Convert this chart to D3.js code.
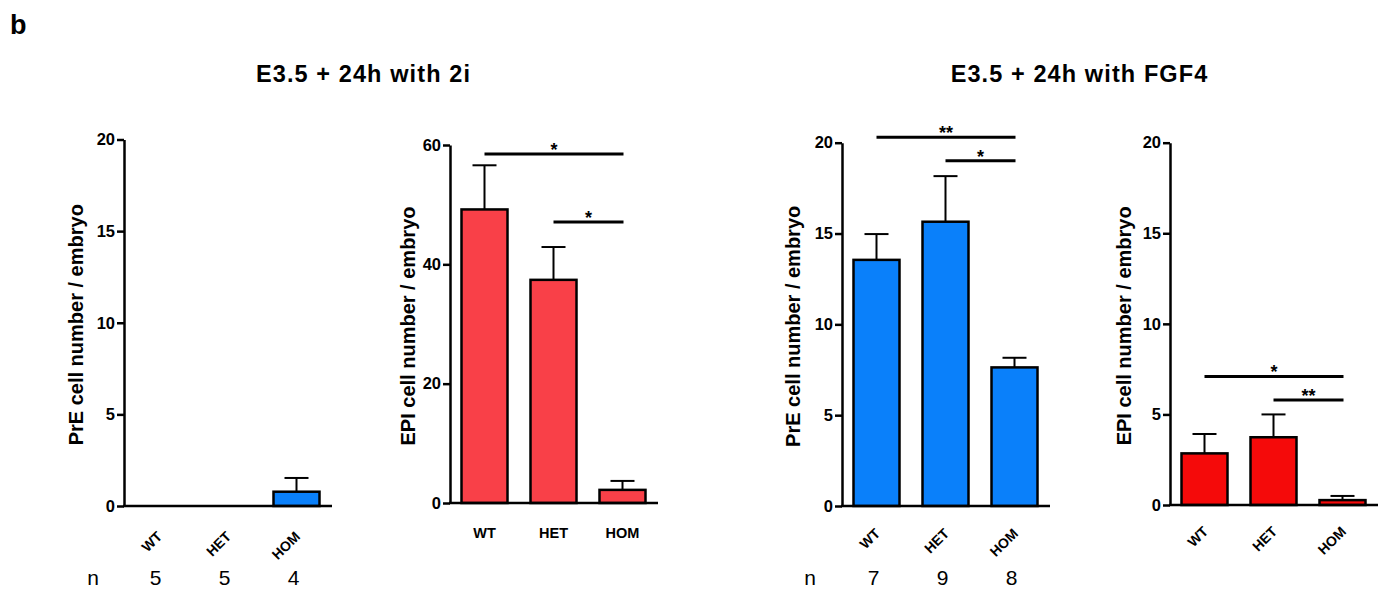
<!DOCTYPE html>
<html><head><meta charset="utf-8">
<script src="https://cdn.jsdelivr.net/npm/d3@7"></script>
<style>
body{margin:0;background:#fff;}
svg text{font-family:"Liberation Sans",Arial,Helvetica,sans-serif;}
</style></head>
<body><svg id="c" width="1388" height="590"></svg>
<script>
// ---- data ----
const categories = ["WT", "HET", "HOM"];
const pre2iMean  = [0, 0, 0.78];
const pre2iSem   = [0, 0, 0.75];
const epi2iMean  = [49.2, 37.4, 2.2];
const epi2iSem   = [7.4, 5.5, 1.5];
const preFgfMean = [13.55, 15.65, 7.63];
const preFgfSem  = [1.42, 2.51, 0.53];
const epiFgfMean = [2.85, 3.74, 0.27];
const epiFgfSem  = [1.07, 1.26, 0.23];
const n2i  = [5, 5, 4];
const nFgf = [7, 9, 8];
const ticks20 = [0, 5, 10, 15, 20];
const ticks60 = [0, 20, 40, 60];
// significance: [from, to, y value, label]
const sigEpi2i  = [["WT","HOM",58.5,"*"],["HET","HOM",47.1,"*"]];
const sigPreFgf = [["WT","HOM",20.3,"**"],["HET","HOM",19.0,"*"]];
const sigEpiFgf = [["WT","HOM",7.1,"*"],["HET","HOM",5.8,"**"]];
const titles = ["E3.5 + 24h with 2i", "E3.5 + 24h with FGF4"];
const yLabels = ["PrE cell number / embryo", "EPI cell number / embryo"];

const svg = d3.select("#c");
const panels = [
  {x0:124, yTop:139.5, y0:506, max:20, ticks:ticks20, mean:pre2iMean, sem:pre2iSem, color:"#0A80FA", label:yLabels[0], labX:76, rot:true, labDy:4, n:n2i, nX:93, sig:[]},
  {x0:450, yTop:145, y0:503, max:60, ticks:ticks60, mean:epi2iMean, sem:epi2iSem, color:"#F94048", label:yLabels[1], labX:408, rot:false, sig:sigEpi2i},
  {x0:842, yTop:142.7, y0:506, max:20, ticks:ticks20, mean:preFgfMean, sem:preFgfSem, color:"#0A80FA", label:yLabels[0], labX:793, rot:true, labDy:1, n:nFgf, nX:810, sig:sigPreFgf},
  {x0:1170, yTop:142.7, y0:505, max:20, ticks:ticks20, mean:epiFgfMean, sem:epiFgfSem, color:"#F50A0A", label:yLabels[1], labX:1124, rot:true, labDy:0, sig:sigEpiFgf}
];

panels.forEach(p => {
  const g = svg.append("g");
  const y = d3.scaleLinear().domain([0, p.max]).range([p.y0, p.yTop]);
  const x = d3.scaleBand().domain(categories).range([p.x0, p.x0 + 207]).paddingInner(1/3).paddingOuter(1/6);

  // bars
  g.selectAll("rect.bar").data(categories.filter((c,i)=>p.mean[i]>0)).join("rect")
    .attr("x", c => x(c)).attr("width", x.bandwidth())
    .attr("y", c => y(p.mean[categories.indexOf(c)]))
    .attr("height", c => p.y0 - y(p.mean[categories.indexOf(c)]))
    .attr("fill", p.color).attr("stroke", "#000").attr("stroke-width", 2.5);

  // error bars (upper only)
  categories.forEach((c,i) => {
    if (p.sem[i] <= 0) return;
    const cx = x(c) + x.bandwidth()/2;
    g.append("line").attr("x1",cx).attr("x2",cx).attr("y1",y(p.mean[i])).attr("y2",y(p.mean[i]+p.sem[i]))
      .attr("stroke","#000").attr("stroke-width",2);
    g.append("line").attr("x1",cx-12).attr("x2",cx+12).attr("y1",y(p.mean[i]+p.sem[i])).attr("y2",y(p.mean[i]+p.sem[i]))
      .attr("stroke","#000").attr("stroke-width",2);
  });

  // y axis
  const ya = g.append("g").attr("transform", `translate(${p.x0},0)`)
    .call(d3.axisLeft(y).tickValues(p.ticks).tickSize(7).tickSizeOuter(0).tickPadding(2));
  ya.select(".domain").attr("stroke-width", 2.5);
  ya.selectAll(".tick line").attr("stroke-width", 2.5);
  ya.selectAll(".tick text").attr("font-size", 16.5).attr("font-weight", "bold").attr("fill","#000")
    .style("font-family", '"Liberation Sans",Arial,sans-serif');

  // x axis line
  g.append("line").attr("x1", p.x0 - 1).attr("x2", p.x0 + 208).attr("y1", p.y0).attr("y2", p.y0)
    .attr("stroke", "#000").attr("stroke-width", 2.5);

  // category labels
  categories.forEach(c => {
    const cx = x(c) + x.bandwidth()/2;
    if (p.rot) {
      g.append("text").attr("transform", `translate(${cx+1},${p.y0+24+p.labDy}) rotate(-45)`)
        .attr("text-anchor","end").attr("dy","0.35em")
        .attr("font-size",14).attr("font-weight","bold").text(c);
    } else {
      g.append("text").attr("x", cx).attr("y", p.y0 + 35).attr("text-anchor","middle")
        .attr("font-size",14.5).attr("font-weight","bold").text(c);
    }
  });

  // n row
  if (p.n) {
    g.append("text").attr("x", p.nX).attr("y", 585).attr("text-anchor","middle").attr("font-size",21).text("n");
    categories.forEach((c,i) => {
      g.append("text").attr("x", x(c) + x.bandwidth()/2 - 3).attr("y", 585).attr("text-anchor","middle")
        .attr("font-size",21).text(p.n[i]);
    });
  }

  // y label
  g.append("text").attr("transform", `translate(${p.labX},${(p.y0+p.yTop)/2 + 2}) rotate(-90)`)
    .attr("text-anchor","middle").attr("dominant-baseline","central")
    .attr("font-size",20).attr("font-weight","bold").text(p.label);

  // significance bars
  p.sig.forEach(s => {
    const xa = x(s[0]) + x.bandwidth()/2, xb = x(s[1]) + x.bandwidth()/2 + 1;
    const yy = y(s[2]);
    g.append("line").attr("x1", xa).attr("x2", xb).attr("y1", yy).attr("y2", yy)
      .attr("stroke","#000").attr("stroke-width",3);
    g.append("text").attr("x", (xa+xb)/2).attr("y", yy + 2).attr("text-anchor","middle")
      .attr("font-size",18).attr("font-weight","bold").text(s[3]);
  });
});

// titles
svg.append("text").attr("x", 363.5).attr("y", 82).attr("text-anchor","middle").attr("font-size",23.5)
  .attr("font-weight","bold").attr("letter-spacing","1.1px").text(titles[0]);
svg.append("text").attr("x", 1079.5).attr("y", 82).attr("text-anchor","middle").attr("font-size",23.5)
  .attr("font-weight","bold").attr("letter-spacing","1.1px").text(titles[1]);
// panel letter
svg.append("text").attr("x", 10).attr("y", 34).attr("font-size",27).attr("font-weight","bold").text("b");
</script></body></html>
